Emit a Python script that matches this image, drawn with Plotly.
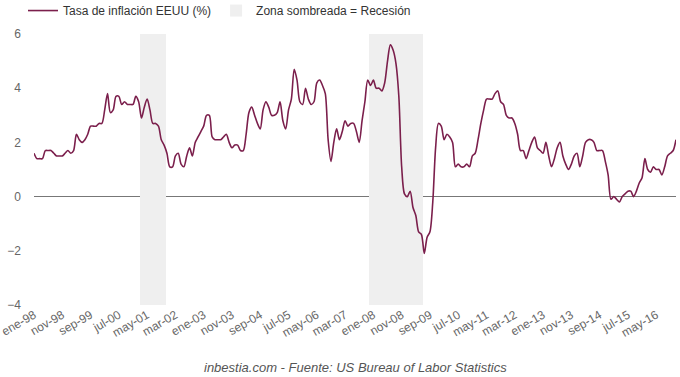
import plotly.graph_objects as go

month_abbr = ["ene", "feb", "mar", "abr", "may", "jun", "jul", "ago", "sep", "oct", "nov", "dic"]
years = list(range(1998, 2017))
months = [f"{m}-{str(y)[2:]}" for y in years for m in month_abbr]

inflation = [
    # 1998
    1.6, 1.4, 1.4, 1.4, 1.7, 1.7, 1.7, 1.6, 1.5, 1.5, 1.5, 1.6,
    # 1999
    1.7, 1.6, 1.7, 2.3, 2.1, 2.0, 2.1, 2.3, 2.6, 2.6, 2.6, 2.7,
    # 2000
    2.7, 3.2, 3.8, 3.1, 3.2, 3.7, 3.7, 3.4, 3.5, 3.4, 3.4, 3.4,
    # 2001
    3.7, 3.5, 2.9, 3.3, 3.6, 3.2, 2.7, 2.7, 2.6, 2.1, 1.9, 1.6,
    # 2002
    1.1, 1.1, 1.5, 1.6, 1.2, 1.1, 1.5, 1.8, 1.5, 2.0, 2.2, 2.4,
    # 2003
    2.6, 3.0, 3.0, 2.2, 2.1, 2.1, 2.1, 2.2, 2.3, 2.0, 1.8, 1.9,
    # 2004
    1.9, 1.7, 1.7, 2.3, 3.1, 3.3, 3.0, 2.7, 2.5, 3.2, 3.5, 3.3,
    # 2005
    3.0, 3.0, 3.1, 3.5, 2.8, 2.5, 3.2, 3.6, 4.7, 4.3, 3.5, 3.4,
    # 2006
    4.0, 3.6, 3.4, 3.5, 4.2, 4.3, 4.1, 3.8, 2.1, 1.3, 2.0, 2.5,
    # 2007
    2.1, 2.4, 2.8, 2.6, 2.7, 2.7, 2.4, 2.0, 2.8, 3.5, 4.3, 4.1,
    # 2008
    4.3, 4.0, 4.0, 3.9, 4.2, 5.0, 5.6, 5.4, 4.9, 3.7, 1.1, 0.1,
    # 2009
    0.0, 0.2, -0.4, -0.7, -1.3, -1.4, -2.1, -1.5, -1.3, -0.2, 1.8, 2.7,
    # 2010
    2.6, 2.1, 2.3, 2.2, 2.0, 1.1, 1.2, 1.1, 1.1, 1.2, 1.1, 1.5,
    # 2011
    1.6, 2.1, 2.7, 3.2, 3.6, 3.6, 3.6, 3.8, 3.9, 3.5, 3.4, 3.0,
    # 2012
    2.9, 2.9, 2.7, 2.3, 1.7, 1.7, 1.4, 1.7, 2.0, 2.2, 1.8, 1.7,
    # 2013
    1.6, 2.0, 1.5, 1.1, 1.4, 1.8, 2.0, 1.5, 1.2, 1.0, 1.2, 1.5,
    # 2014
    1.6, 1.1, 1.5, 2.0, 2.1, 2.1, 2.0, 1.7, 1.7, 1.7, 1.3, 0.8,
    # 2015
    -0.1, 0.0, -0.1, -0.2, 0.0, 0.1, 0.2, 0.2, 0.0, 0.2, 0.5, 0.7,
    # 2016
    1.4, 1.0, 0.9, 1.1, 1.0, 1.0, 0.8, 1.1, 1.5, 1.6, 1.7, 2.1,
]

recession_months = (
    ["mar-01", "abr-01", "may-01", "jun-01", "jul-01", "ago-01", "sep-01", "oct-01", "nov-01"]
    + ["dic-07"]
    + [f"{m}-08" for m in month_abbr]
    + ["ene-09", "feb-09", "mar-09", "abr-09", "may-09", "jun-09"]
)
y_min, y_max = -4, 6
recession_height = [y_max - y_min] * len(recession_months)

tick_labels = months[::10]
y_ticks = [-4, -2, 0, 2, 4, 6]

fig = go.Figure()
fig.add_trace(go.Scatter(
    x=months, y=inflation, mode="lines",
    line=dict(color="#7b1f4c", width=1.6, shape="spline", smoothing=0.8),
    name="Tasa de inflación EEUU (%)",
))
fig.add_trace(go.Bar(
    x=recession_months, y=recession_height, base=y_min,
    marker=dict(color="#efefef", line=dict(width=0)),
    name="Zona sombreada = Recesión",
))
fig.data = (fig.data[1], fig.data[0])

fig.update_layout(
    width=680, height=377,
    margin=dict(l=34, r=4, t=34, b=72, autoexpand=False),
    plot_bgcolor="white", paper_bgcolor="white",
    font=dict(family="Liberation Sans, Arial, sans-serif", size=12, color="#666666"),
    bargap=0,
    showlegend=True,
    legend=dict(orientation="h", x=23 / 680, y=0.972, yanchor="middle", xanchor="left",
                xref="container", yref="container",
                font=dict(size=12, color="#333333"),
                traceorder="reversed"),
    xaxis=dict(type="category", categoryorder="array", categoryarray=months,
               range=[0, len(months) - 1], tickmode="array",
               tickvals=tick_labels, ticktext=tick_labels, tickangle=-30,
               showgrid=False, ticks="", showline=False, zeroline=False,
               automargin=False),
    yaxis=dict(range=[y_min, y_max], tickvals=y_ticks, showgrid=False,
               zeroline=True, zerolinecolor="#777777", zerolinewidth=1,
               showline=False, ticks="", ticklabelstandoff=12, automargin=False),
    annotations=[dict(text="<i>inbestia.com - Fuente: US Bureau of Labor Statistics</i>",
                      xref="paper", yref="paper", x=0.5, y=-0.229, yanchor="middle",
                      showarrow=False, font=dict(size=13, color="#555555"))],
)

fig.write_html("out.html", config={"displayModeBar": False},
               post_script="document.body.style.margin='0';document.body.style.overflow='hidden';")
